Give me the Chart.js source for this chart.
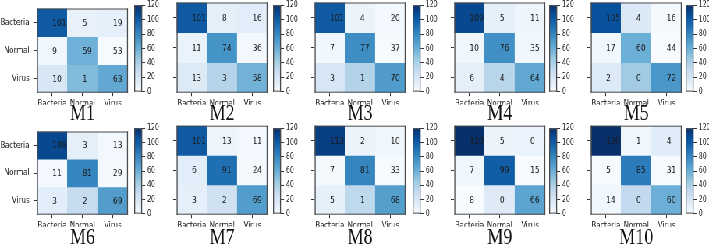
<!DOCTYPE html>
<html>
<head>
<meta charset="utf-8">
<script src="https://cdn.jsdelivr.net/npm/chart.js@4"></script>
<style>
html,body{margin:0;padding:0;background:#fff;overflow:hidden;width:709px;height:249px;}
#root{position:absolute;left:0;top:0;height:249px;transform-origin:0 0;}
#root canvas{position:absolute;}
</style>
</head>
<body>
<div id="root"></div>
<script>
// ---- data ----
const classes = ['Bacteria', 'Normal', 'Virus'];
const models = ['M1', 'M2', 'M3', 'M4', 'M5', 'M6', 'M7', 'M8', 'M9', 'M10'];
const M1 = [[101, 5, 19], [9, 59, 53], [10, 1, 63]];
const M2 = [[101, 8, 16], [11, 74, 36], [13, 3, 58]];
const M3 = [[101, 4, 20], [7, 77, 37], [3, 1, 70]];
const M4 = [[109, 5, 11], [10, 76, 35], [6, 4, 64]];
const M5 = [[105, 4, 16], [17, 60, 44], [2, 0, 72]];
const M6 = [[109, 3, 13], [11, 81, 29], [3, 2, 69]];
const M7 = [[101, 13, 11], [6, 91, 24], [3, 2, 69]];
const M8 = [[113, 2, 10], [7, 81, 33], [5, 1, 68]];
const M9 = [[120, 5, 0], [7, 99, 15], [8, 0, 66]];
const M10 = [[120, 1, 4], [5, 85, 31], [14, 0, 60]];
const matrices = [M1, M2, M3, M4, M5, M6, M7, M8, M9, M10];
const colorbarTicks = [0, 20, 40, 60, 80, 100, 120];

// ---- layout (screen px) ----
const SX = 0.78;
const colLeft = [37, 176.5, 315, 454, 590.5];
const cbLeft = [134.5, 273, 413, 549.5, 686];
const rowTop = [2.5, 125.7];
const rowH = [90.2, 89];
const titleOff = [21.5, 23];
const MW = 91;

const root = document.getElementById('root');
root.style.width = (709 / SX) + 'px';
root.style.transform = 'scaleX(' + SX + ')';

Chart.defaults.font.family = "'DejaVu Sans', sans-serif";
Chart.defaults.color = '#222';

const BLUES = ['#f7fbff','#deebf7','#c6dbef','#9ecae1','#6baed6','#4292c6','#2171b5','#08519c','#08306b'];
function hex2rgb(h){return [parseInt(h.substr(1,2),16),parseInt(h.substr(3,2),16),parseInt(h.substr(5,2),16)];}
function blues(t){
  t = Math.max(0, Math.min(1, t));
  const s = t * 8; const i = Math.min(7, Math.floor(s)); const f = s - i;
  const a = hex2rgb(BLUES[i]), b = hex2rgb(BLUES[i+1]);
  return 'rgb(' + a.map((v,k)=>Math.round(v + (b[k]-v)*f)).join(',') + ')';
}
const vmin = colorbarTicks[0], vmax = colorbarTicks[colorbarTicks.length-1];

function frame(ctx, ca){
  ctx.save();
  ctx.strokeStyle = '#4a4a4a';
  ctx.lineWidth = 1;
  ctx.beginPath();
  ctx.moveTo(ca.left, ca.top + 0.5); ctx.lineTo(ca.right, ca.top + 0.5);
  ctx.moveTo(ca.left, ca.bottom - 0.5); ctx.lineTo(ca.right, ca.bottom - 0.5);
  ctx.stroke();
  ctx.lineWidth = 1 / SX;
  ctx.beginPath();
  ctx.moveTo(ca.left + 0.5/SX, ca.top); ctx.lineTo(ca.left + 0.5/SX, ca.bottom);
  ctx.moveTo(ca.right - 0.5/SX, ca.top); ctx.lineTo(ca.right - 0.5/SX, ca.bottom);
  ctx.stroke();
  ctx.restore();
}

function addCanvas(leftS, top, w, h){
  const c = document.createElement('canvas');
  c.width = w; c.height = h;
  c.style.left = (leftS / SX) + 'px';
  c.style.top = top + 'px';
  c.style.width = w + 'px'; c.style.height = h + 'px';
  root.appendChild(c);
  return c;
}

function makeMatrix(idx){
  const col = idx % 5, row = Math.floor(idx / 5);
  const m = matrices[idx];
  const L = colLeft[col], T = rowTop[row], H = rowH[row];
  const showY = col === 0;
  const yW = 37, xH = 12;
  const top = Math.floor(T) - 4;
  const padTop = T - top;
  const cw = Math.ceil((yW + MW + 3) / SX);
  const padRight = cw - (yW + MW) / SX;
  const ch = Math.ceil(padTop + H + 36);
  const padBottom = ch - (padTop + H + xH);
  const canvas = addCanvas(L - yW, top, cw, ch);

  const datasets = classes.map((name, r) => ({
    data: classes.map(() => [classes.length - 1 - r, classes.length - r]),
    backgroundColor: classes.map((_, c) => blues((m[c][r] - vmin) / (vmax - vmin))),
    counts: m[r],
    borderWidth: 0,
    barPercentage: 1,
    categoryPercentage: 1,
    grouped: false
  }));

  new Chart(canvas, {
    type: 'bar',
    data: { labels: classes, datasets },
    options: {
      responsive: false,
      animation: false,
      layout: { padding: { left: 0, right: padRight, top: padTop, bottom: padBottom } },
      scales: {
        x: {
          type: 'category', offset: true,
          grid: { display: true, drawOnChartArea: false, drawTicks: true, tickLength: 3.5, offset: false, color: '#333' },
          border: { display: false },
          ticks: { font: { size: 9 }, color: '#222', padding: 2.5, maxRotation: 0, autoSkip: false },
          afterFit: s => { s.height = xH; }
        },
        y: {
          type: 'linear', min: 0, max: classes.length,
          afterBuildTicks: s => { s.ticks = classes.map((_, r) => ({ value: classes.length - 0.5 - r })); },
          ticks: { display: showY, font: { size: 9 }, color: '#222', padding: 4 / SX,
                   callback: v => classes[Math.round(classes.length - 0.5 - v)] },
          grid: { display: true, drawOnChartArea: false, drawTicks: true, tickLength: 3.5 / SX, color: '#333' },
          border: { display: false },
          afterFit: s => { s.width = yW / SX; }
        }
      },
      plugins: {
        legend: { display: false },
        tooltip: { enabled: false },
        title: { display: false }
      }
    },
    plugins: [{
      id: 'cells',
      afterDatasetsDraw(chart){
        const ctx = chart.ctx;
        ctx.save();
        ctx.font = '9.5px "DejaVu Sans"';
        ctx.fillStyle = '#1a1a1a';
        ctx.textAlign = 'left';
        ctx.textBaseline = 'middle';
        chart.data.datasets.forEach((ds, i) => {
          chart.getDatasetMeta(i).data.forEach((bar, j) => {
            const p = bar.getProps(['x', 'y', 'base'], true);
            ctx.fillText(String(ds.counts[j]), p.x, (p.y + p.base) / 2 + 0.5);
          });
        });
        ctx.restore();
      },
      afterDraw(chart){
        const ca = chart.chartArea, ctx = chart.ctx;
        frame(ctx, ca);
        ctx.save();
        ctx.font = "23px 'Liberation Serif', 'Times New Roman', serif";
        ctx.fillStyle = '#111';
        ctx.textAlign = 'center';
        ctx.textBaseline = 'middle';
        ctx.fillText(models[idx], (ca.left + ca.right) / 2, ca.bottom + titleOff[row]);
        ctx.restore();
      }
    }]
  });
}

function makeColorbar(idx){
  const col = idx % 5, row = Math.floor(idx / 5);
  const T = rowTop[row], H = rowH[row];
  const cbW = 8, lblW = 22;
  const top = Math.floor(T) - 4;
  const padTop = T - top;
  const cw = Math.ceil((cbW + lblW) / SX);
  const axisW = cw - cbW / SX;
  const ch = Math.ceil(padTop + H + 6);
  const padBottom = ch - (padTop + H);
  const canvas = addCanvas(cbLeft[col], top, cw, ch);
  new Chart(canvas, {
    type: 'bar',
    data: {
      labels: [''],
      datasets: [{
        data: [[vmin, vmax]],
        backgroundColor: (c) => {
          const ca = c.chart.chartArea;
          if (!ca) return BLUES[4];
          const g = c.chart.ctx.createLinearGradient(0, ca.bottom, 0, ca.top);
          BLUES.forEach((h, k) => g.addColorStop(k / (BLUES.length - 1), h));
          return g;
        },
        borderWidth: 0, barPercentage: 1, categoryPercentage: 1
      }]
    },
    options: {
      responsive: false,
      animation: false,
      layout: { padding: { left: 0, right: 0, top: padTop, bottom: padBottom } },
      scales: {
        x: { display: false },
        y: {
          position: 'right', min: vmin, max: vmax,
          afterBuildTicks: s => { s.ticks = colorbarTicks.map(v => ({ value: v })); },
          ticks: { font: { size: 8 }, color: '#222', padding: 2 / SX },
          grid: { display: true, drawOnChartArea: false, drawTicks: true, tickLength: 3 / SX, color: '#333' },
          border: { display: false },
          afterFit: s => { s.width = axisW; }
        }
      },
      plugins: { legend: { display: false }, tooltip: { enabled: false } }
    },
    plugins: [{ id: 'cbframe', afterDraw(chart){ frame(chart.ctx, chart.chartArea); } }]
  });
}

for (let i = 0; i < matrices.length; i++) { makeMatrix(i); makeColorbar(i); }
</script>
</body>
</html>
